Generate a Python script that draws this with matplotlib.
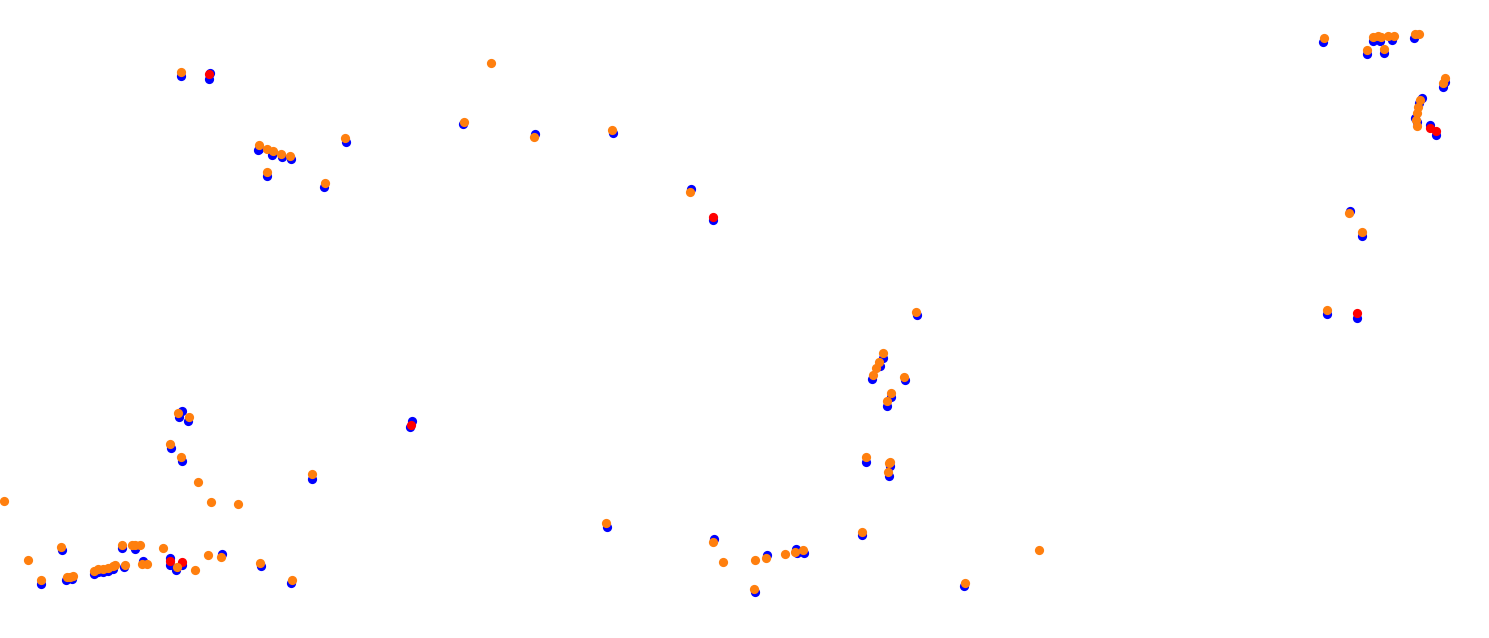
import matplotlib
matplotlib.use("Agg")
import matplotlib.pyplot as plt

# Blue series (x, y) in picture coordinates
blue_x = [62, 41, 66, 72, 94, 98, 103, 108, 113, 124, 122, 135, 143, 170, 170, 182, 176, 222, 261, 291,
          182, 179, 188, 171, 182, 312,
          181, 210, 209, 259, 258, 272, 282, 291, 267, 324, 346,
          463, 535, 613, 691, 713,
          412, 410, 607,
          917, 883, 880, 872, 905, 891, 887, 866, 890, 889,
          714, 755, 767, 796, 804, 797, 862, 964,
          1323, 1373, 1380, 1392, 1414, 1367, 1384,
          1445, 1443, 1422, 1419, 1415, 1417, 1430, 1436,
          1350, 1362, 1327, 1357]
blue_y = [550, 584, 580, 579, 574, 572, 572, 571, 569, 567, 548, 549, 561, 558, 565, 565, 570, 554, 566, 583,
          411, 417, 421, 448, 461, 479,
          76, 73, 79, 149, 150, 155, 157, 159, 176, 187, 142,
          124, 134, 133, 189, 220,
          421, 427, 527,
          315, 358, 366, 379, 380, 397, 406, 462, 466, 476,
          539, 592, 555, 549, 553, 553, 535, 586,
          42, 41, 41, 40, 38, 54, 53,
          82, 87, 98, 103, 118, 122, 125, 135,
          211, 236, 314, 318]

# Red series
red_x = [170, 182, 209, 713, 411, 1430, 1436, 1357]
red_y = [561, 562, 74, 217, 425, 128, 131, 313]

# Orange series
orange_x = [28, 61, 41, 67, 70, 73, 94, 98, 103, 108, 113, 115, 125, 122, 132, 135, 140, 163, 142, 147,
            177, 195, 208, 221, 260, 292,
            4, 178, 189, 170, 181, 198, 211, 238, 312,
            181, 259, 267, 273, 281, 290, 267, 325, 345,
            491, 464, 534, 612, 690,
            606,
            916, 883, 879, 876, 873, 904, 891, 887, 866, 890, 889, 888,
            713, 723, 755, 754, 766, 785, 795, 803, 862, 1039, 965,
            1324, 1373, 1378, 1381, 1388, 1394, 1415, 1419, 1367, 1384,
            1445, 1443, 1420, 1418, 1417, 1416, 1417,
            1349, 1362, 1327]
orange_y = [560, 547, 580, 577, 577, 576, 571, 569, 569, 568, 566, 565, 565, 545, 545, 545, 545, 548, 564, 564,
            567, 570, 555, 557, 563, 580,
            501, 413, 417, 444, 457, 482, 502, 504, 474,
            72, 145, 149, 151, 154, 156, 172, 183, 138,
            63, 122, 137, 130, 192,
            523,
            312, 353, 362, 368, 375, 377, 393, 401, 457, 462, 463, 472,
            542, 562, 560, 589, 558, 554, 552, 550, 532, 550, 583,
            38, 37, 36, 37, 36, 36, 34, 34, 50, 49,
            78, 83, 100, 107, 113, 120, 126,
            213, 232, 310]

fig = plt.figure(figsize=(14.89, 6.38), dpi=100)
ax = fig.add_axes([0, 0, 1, 1])
ms = 44
ax.scatter(blue_x, blue_y, s=ms, color="#0000ff", linewidths=0, zorder=1)
ax.scatter(red_x, red_y, s=ms, color="#ff0000", linewidths=0, zorder=2)
ax.scatter(orange_x, orange_y, s=ms, color="#ff7f0e", linewidths=0, zorder=3)
ax.set_xlim(0, 1489)
ax.set_ylim(638, 0)
ax.axis("off")
fig.savefig("out.png", dpi=100, facecolor="white")
